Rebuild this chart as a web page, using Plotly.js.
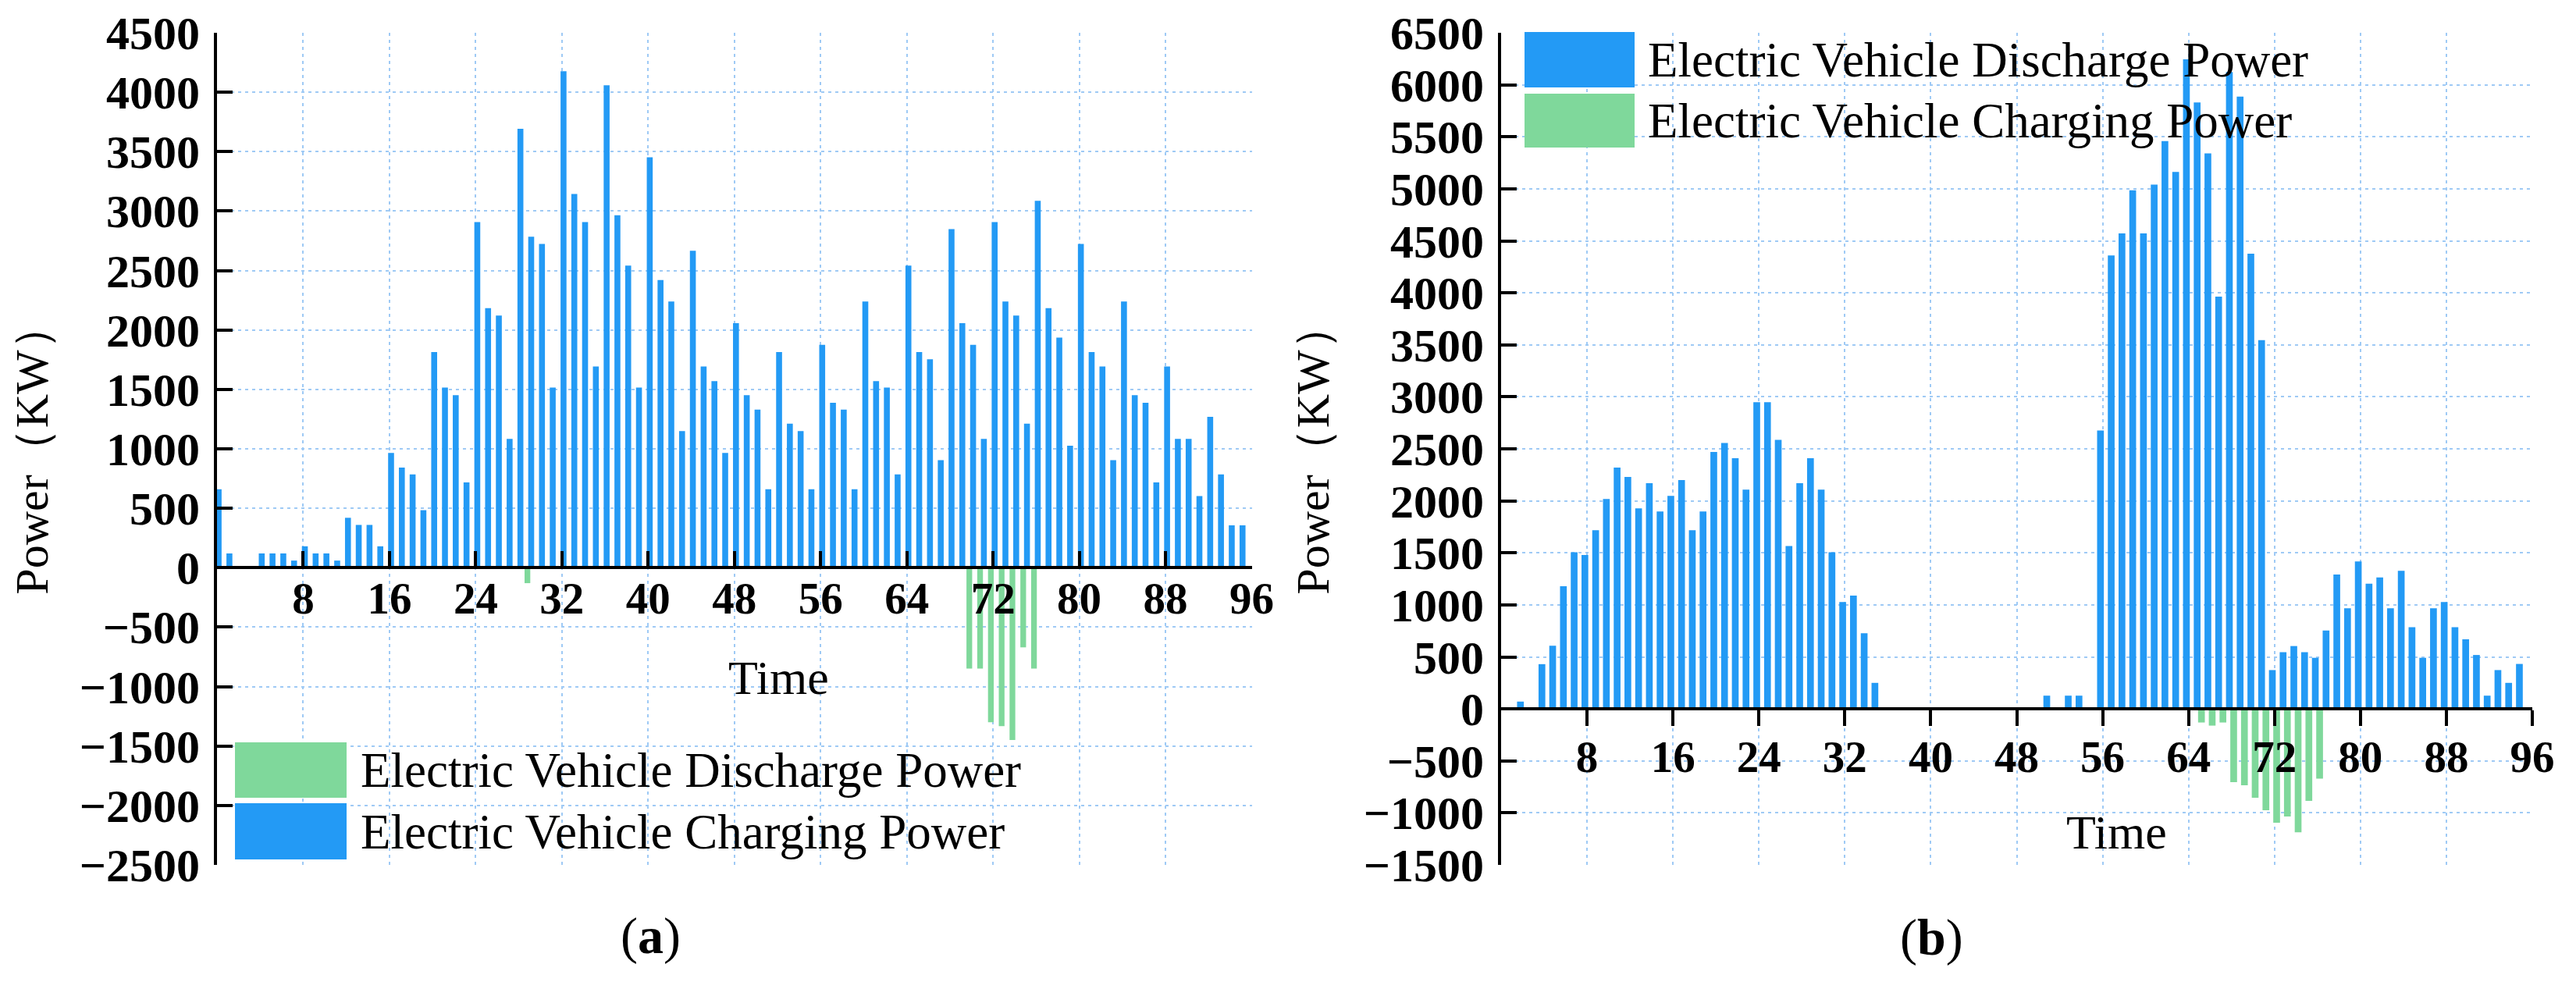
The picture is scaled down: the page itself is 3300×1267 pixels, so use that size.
<!DOCTYPE html>
<html>
<head>
<meta charset="utf-8">
<script src="https://cdn.plot.ly/plotly-3.0.1.min.js"></script>
<style>html,body{margin:0;padding:0;background:#fff;}#chart{width:3300px;height:1267px;}</style>
</head>
<body>
<div id="chart"></div>
<script>
// ---- data ----
const TIME = [0,1,2,3,4,5,6,7,8,9,10,11,12,13,14,15,16,17,18,19,20,21,22,23,24,25,26,27,28,29,30,31,32,33,34,35,36,37,38,39,40,41,42,43,44,45,46,47,48,49,50,51,52,53,54,55,56,57,58,59,60,61,62,63,64,65,66,67,68,69,70,71,72,73,74,75,76,77,78,79,80,81,82,83,84,85,86,87,88,89,90,91,92,93,94,95];

// panel (a)
const A_CHARGING = [660,120,0,0,120,120,120,60,180,120,120,60,420,360,360,180,
  965,843,785,484,1814,1516,1452,718,2907,2183,2122,1083,3692,2785,2724,1516,
  4176,3144,2907,1692,4058,2965,2541,1516,3452,2420,2240,1150,2667,1692,1570,965,
  2058,1452,1330,660,1814,1211,1150,660,1875,1388,1330,660,2240,1570,1516,785,
  2541,1814,1753,904,2849,2058,1875,1083,2907,2240,2122,1211,3086,2183,1936,1026,
  2724,1814,1692,904,2240,1452,1388,718,1692,1083,1083,603,1269,785,356,356];
const A_DISCHARGE = [0,0,0,0,0,0,0,0,0,0,0,0,0,0,0,0,
  0,0,0,0,0,0,0,0,0,0,0,0,0,-130,0,0,
  0,0,0,0,0,0,0,0,0,0,0,0,0,0,0,0,
  0,0,0,0,0,0,0,0,0,0,0,0,0,0,0,0,
  0,0,0,0,0,0,-848,-848,-1300,-1333,-1450,-670,-848,0,0,0,
  0,0,0,0,0,0,0,0,0,0,0,0,0,0,0,0];

// panel (b)
const B_DISCHARGE = [0,0,70,0,430,607,1179,1506,1480,1717,2018,2319,2229,1928,2169,1898,
  2048,2199,1717,1898,2470,2556,2410,2108,2948,2948,2586,1566,2169,2410,2108,1506,
  1028,1089,727,250,0,0,0,0,0,0,0,0,0,0,0,0,
  0,0,0,127,0,127,127,0,2677,4359,4572,4986,4572,5040,5459,5163,
  6245,5831,5340,3963,6122,5886,4377,3545,373,545,604,545,491,754,1291,968,
  1418,1204,1263,968,1327,786,491,968,1027,786,668,518,127,373,250,432];
const B_CHARGING = [0,0,0,0,0,0,0,0,0,0,0,0,0,0,0,0,
  0,0,0,0,0,0,0,0,0,0,0,0,0,0,0,0,
  0,0,0,0,0,0,0,0,0,0,0,0,0,0,0,0,
  0,0,0,0,0,0,0,0,0,0,0,0,0,0,0,0,
  0,-131,-161,-131,-704,-734,-854,-975,-1095,-1035,-1186,-884,-671,0,0,0,
  0,0,0,0,0,0,0,0,0,0,0,0,0,0,0,0];

const X_TICKS = [8,16,24,32,40,48,56,64,72,80,88,96];
const X_GRID = [8,16,24,32,40,48,56,64,72,80,88];
const X_MINOR_B = [4,12,20,28,36,44,52,60,68,76,84,92];
const A_YTICKS = [-2500,-2000,-1500,-1000,-500,0,500,1000,1500,2000,2500,3000,3500,4000,4500];
const A_YGRID = [-2000,-1500,-1000,-500,500,1000,1500,2000,2500,3000,3500,4000];
const B_YTICKS = [-1500,-1000,-500,0,500,1000,1500,2000,2500,3000,3500,4000,4500,5000,5500,6000,6500];
const B_YGRID = [-1000,-500,500,1000,1500,2000,2500,3000,3500,4000,4500,5000,5500,6000];
const A_RANGE = [-2500,4500];
const B_RANGE = [-1500,6500];

const NAME_DIS = 'Electric Vehicle Discharge Power';
const NAME_CHG = 'Electric Vehicle Charging Power';

// ---- style ----
const BLUE = '#239af5';
const GREEN = '#7fd89b';
const GRID = '#9fcaf5';
const FONT = 'Liberation Serif, Times New Roman, serif';
const W = 3300, H = 1267;
const L = 278, R = 3244, T = 42, B = 1108;
const fx = x => (x - L) / (R - L);
const fy = y => (B - y) / (B - T);

const traces = [
  {type:'bar', name:NAME_DIS, x:TIME, y:A_DISCHARGE, xaxis:'x', yaxis:'y',
   width:0.53, offset:-0.465, marker:{color:GREEN, line:{width:0}}},
  {type:'bar', name:NAME_CHG, x:TIME, y:A_CHARGING, xaxis:'x', yaxis:'y',
   width:0.55, offset:-0.125, marker:{color:BLUE, line:{width:0}}},
  {type:'bar', name:NAME_DIS, x:TIME, y:B_DISCHARGE, xaxis:'x2', yaxis:'y2',
   width:0.63, offset:-0.515, marker:{color:BLUE, line:{width:0}}},
  {type:'bar', name:NAME_CHG, x:TIME, y:B_CHARGING, xaxis:'x2', yaxis:'y2',
   width:0.63, offset:-0.115, marker:{color:GREEN, line:{width:0}}}
];

const gridMinor = vals => ({tickmode:'array', tickvals:vals, showgrid:true, gridcolor:GRID,
  gridwidth:2, griddash:'4px,5px', ticks:''});

const commonX = {
  range:[0,96], tickmode:'array', tickvals:X_TICKS, ticktext:X_TICKS.map(String),
  tickwidth:4, tickcolor:'#000', showline:true, linewidth:4, linecolor:'#000',
  showgrid:false, zeroline:false, anchor:'free', automargin:false,
  tickfont:{family:FONT, size:57, weight:'bold', color:'#000'},
  minor:gridMinor(X_GRID), fixedrange:true
};
const commonY = {
  tickmode:'array', ticks:'inside', ticklen:20, tickwidth:4, tickcolor:'#000',
  showline:true, linewidth:4, linecolor:'#000', showgrid:false, zeroline:false,
  automargin:false, ticklabelstandoff:6,
  tickfont:{family:FONT, size:60, weight:'bold', color:'#000'}, fixedrange:true
};

const layout = {
  width:W, height:H,
  margin:{l:L, r:W-R, t:T, b:H-B, pad:0},
  paper_bgcolor:'#fff', plot_bgcolor:'#fff',
  showlegend:false, barmode:'overlay',
  font:{family:FONT, color:'#000'},
  xaxis:Object.assign({}, commonX, {
    domain:[0, fx(1603.5)],
    position:(0 - A_RANGE[0]) / (A_RANGE[1] - A_RANGE[0]),
    ticks:'inside', ticklen:19, ticklabelstandoff:-12
  }),
  yaxis:Object.assign({}, commonY, {
    domain:[0,1], range:A_RANGE, anchor:'x', tickvals:A_YTICKS,
    minor:gridMinor(A_YGRID),
    title:{text:'Power（KW）', font:{family:FONT, size:60}, standoff:22}
  }),
  xaxis2:Object.assign({}, commonX, {
    domain:[fx(1923), 1],
    position:(0 - B_RANGE[0]) / (B_RANGE[1] - B_RANGE[0]),
    ticks:'outside', ticklen:20, ticklabelstandoff:-10
  }),
  xaxis3:{
    overlaying:'x2', domain:[fx(1923), 1], range:[0,96], anchor:'free',
    position:(0 - B_RANGE[0]) / (B_RANGE[1] - B_RANGE[0]),
    tickmode:'array', tickvals:X_MINOR_B, ticks:'outside', ticklen:10, tickwidth:4,
    tickcolor:'#000', showticklabels:false, showline:false, showgrid:false,
    zeroline:false, fixedrange:true
  },
  yaxis2:Object.assign({}, commonY, {
    domain:[0,1], range:B_RANGE, anchor:'x2', tickvals:B_YTICKS,
    minor:gridMinor(B_YGRID),
    title:{text:'Power（KW）', font:{family:FONT, size:60}, standoff:26}
  }),
  shapes:[
    {type:'rect', xref:'paper', yref:'paper', x0:fx(301), x1:fx(444), y0:fy(1022), y1:fy(951),
     fillcolor:GREEN, line:{width:0}, layer:'above'},
    {type:'rect', xref:'paper', yref:'paper', x0:fx(301), x1:fx(444), y0:fy(1101), y1:fy(1029),
     fillcolor:BLUE, line:{width:0}, layer:'above'},
    {type:'rect', xref:'paper', yref:'paper', x0:fx(1953), x1:fx(2094), y0:fy(112), y1:fy(41),
     fillcolor:BLUE, line:{width:0}, layer:'above'},
    {type:'rect', xref:'paper', yref:'paper', x0:fx(1953), x1:fx(2094), y0:fy(189), y1:fy(120),
     fillcolor:GREEN, line:{width:0}, layer:'above'}
  ],
  annotations:[
    {text:NAME_DIS, xref:'paper', yref:'paper', x:fx(460), y:fy(987), xanchor:'left', yanchor:'middle',
     showarrow:false, font:{family:FONT, size:63}},
    {text:NAME_CHG, xref:'paper', yref:'paper', x:fx(460), y:fy(1066), xanchor:'left', yanchor:'middle',
     showarrow:false, font:{family:FONT, size:63}},
    {text:NAME_DIS, xref:'paper', yref:'paper', x:fx(2109), y:fy(77), xanchor:'left', yanchor:'middle',
     showarrow:false, font:{family:FONT, size:63}},
    {text:NAME_CHG, xref:'paper', yref:'paper', x:fx(2109), y:fy(155), xanchor:'left', yanchor:'middle',
     showarrow:false, font:{family:FONT, size:63}},
    {text:'Time', xref:'paper', yref:'paper', x:fx(997), y:fy(868), xanchor:'center', yanchor:'middle',
     showarrow:false, font:{family:FONT, size:62}},
    {text:'Time', xref:'paper', yref:'paper', x:fx(2711), y:fy(1066), xanchor:'center', yanchor:'middle',
     showarrow:false, font:{family:FONT, size:62}},
    {text:'(<b>a</b>)', xref:'paper', yref:'paper', x:fx(833), y:fy(1199), xanchor:'center', yanchor:'middle',
     showarrow:false, font:{family:FONT, size:66}},
    {text:'(<b>b</b>)', xref:'paper', yref:'paper', x:fx(2474), y:fy(1201), xanchor:'center', yanchor:'middle',
     showarrow:false, font:{family:FONT, size:66}}
  ]
};

Plotly.newPlot('chart', traces, layout, {staticPlot:true, displayModeBar:false});
</script>
</body>
</html>
